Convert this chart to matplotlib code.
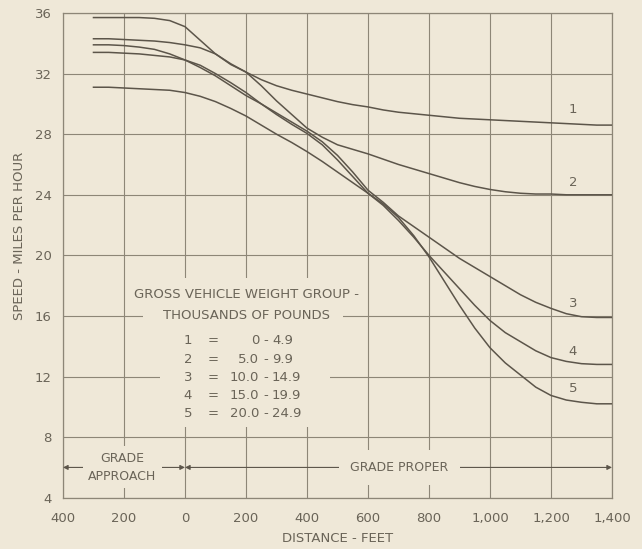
import matplotlib
matplotlib.use("Agg")
import matplotlib.pyplot as plt
from matplotlib.patches import Rectangle
from matplotlib.ticker import FuncFormatter

# ---------------- data ----------------
distance = list(range(-300, 1401, 50))   # feet (negative = grade approach)

speed_1 = [35.7, 35.7, 35.7, 35.7, 35.65, 35.5, 35.1, 34.2, 33.3, 32.6, 32.1,
           31.6, 31.2, 30.9, 30.65, 30.4, 30.15, 29.95, 29.8, 29.6, 29.45,
           29.35, 29.25, 29.15, 29.05, 29.0, 28.95, 28.9, 28.85, 28.8, 28.75,
           28.7, 28.65, 28.6, 28.6]
speed_2 = [34.3, 34.3, 34.25, 34.2, 34.15, 34.05, 33.9, 33.7, 33.3, 32.65, 32.1,
           31.2, 30.2, 29.3, 28.4, 27.8, 27.3, 27.0, 26.7, 26.35, 26.0,
           25.7, 25.4, 25.1, 24.8, 24.55, 24.35, 24.2, 24.1, 24.05, 24.05,
           24.0, 24.0, 24.0, 24.0]
speed_3 = [33.9, 33.9, 33.85, 33.75, 33.6, 33.3, 32.9, 32.4, 31.85, 31.2, 30.55,
           30.0, 29.4, 28.8, 28.2, 27.5, 26.6, 25.5, 24.3, 23.5, 22.6,
           21.9, 21.2, 20.5, 19.8, 19.2, 18.6, 18.0, 17.4, 16.9, 16.5,
           16.15, 15.95, 15.9, 15.9]
speed_4 = [33.4, 33.4, 33.35, 33.3, 33.2, 33.1, 32.9, 32.55, 32.0, 31.4, 30.75,
           30.0, 29.3, 28.65, 28.05, 27.3, 26.3, 25.2, 24.1, 23.3, 22.3,
           21.2, 20.0, 18.9, 17.8, 16.7, 15.7, 14.9, 14.3, 13.7, 13.25,
           13.0, 12.85, 12.8, 12.8]
speed_5 = [31.1, 31.1, 31.05, 31.0, 30.95, 30.9, 30.75, 30.5, 30.15, 29.7, 29.2,
           28.6, 28.0, 27.45, 26.85, 26.2, 25.5, 24.8, 24.1, 23.4, 22.5,
           21.3, 19.9, 18.3, 16.7, 15.2, 13.9, 12.9, 12.1, 11.3, 10.75,
           10.45, 10.3, 10.2, 10.2]

curve_names = ["1", "2", "3", "4", "5"]
label_speeds = [29.6, 24.8, 16.85, 13.65, 11.2]

legend_title = ["GROSS VEHICLE WEIGHT GROUP -", "THOUSANDS OF POUNDS"]
group_low = ["0", "5.0", "10.0", "15.0", "20.0"]
group_high = ["4.9", "9.9", "14.9", "19.9", "24.9"]

x_ticks = list(range(-400, 1401, 200))
y_ticks = list(range(4, 37, 4))

# ---------------- style ----------------
BG = "#efe8d8"
LINE = "#5c554a"
GRID = "#8d8677"
TXT = "#6a6458"
plt.rcParams["font.family"] = ["DejaVu Sans"]

fig = plt.figure(figsize=(6.42, 5.49), dpi=100, facecolor=BG)
ax = fig.add_axes([0.0981, 0.0934, 0.8552, 0.8829])
ax.set_facecolor(BG)
ax.set_xlim(-400, 1400)
ax.set_ylim(4, 36)

ax.set_xticks(x_ticks)
ax.set_yticks(y_ticks)
ax.xaxis.set_major_formatter(FuncFormatter(lambda v, p: f"{abs(int(v)):,}"))
ax.grid(True, color=GRID, lw=0.8)
ax.set_axisbelow(True)
for s in ax.spines.values():
    s.set_color(GRID)
    s.set_linewidth(0.9)
ax.tick_params(axis="both", length=0, colors=TXT, labelsize=9.5)
ax.tick_params(axis="x", pad=10)
ax.tick_params(axis="y", pad=8)

ax.set_xlabel("DISTANCE - FEET", color=TXT, fontsize=9.5, labelpad=5)
ax.set_ylabel("SPEED - MILES PER HOUR", color=TXT, fontsize=9.5, labelpad=14)
ax.yaxis.set_label_coords(-0.067, 0.54)

# ---------------- curves ----------------
for s in (speed_1, speed_2, speed_3, speed_4, speed_5):
    ax.plot(distance, s, color=LINE, lw=1.1, zorder=3)

for name, y in zip(curve_names, label_speeds):
    ax.text(1272, y, name, color=TXT, fontsize=9.5, ha="center", va="center", zorder=4)

# ---------------- legend block (background masks hide the grid behind text) ----------------
ax.add_patch(Rectangle((-82, 8.7), 557, 9.8, facecolor=BG, edgecolor="none", zorder=1.5))
ax.add_patch(Rectangle((-138, 15.6), 656, 0.8, facecolor=BG, edgecolor="none", zorder=1.5))
ax.add_patch(Rectangle((-160, 16.9), 700, 1.0, facecolor=BG, edgecolor="none", zorder=1.5))
ax.text(203, 17.4, legend_title[0], color=TXT, fontsize=9.5, ha="center", va="center", zorder=4)
ax.text(203, 16.05, legend_title[1], color=TXT, fontsize=9.5, ha="center", va="center", zorder=4)
row_y = [14.35, 13.15, 11.95, 10.75, 9.55]
for name, lo, hi, y in zip(curve_names, group_low, group_high, row_y):
    ax.text(10, y, name, color=TXT, fontsize=9.5, ha="center", va="center", zorder=4)
    ax.text(92, y, "=", color=TXT, fontsize=9.5, ha="center", va="center", zorder=4)
    ax.text(243, y, lo, color=TXT, fontsize=9.5, ha="right", va="center", zorder=4)
    ax.text(264, y, "-", color=TXT, fontsize=9.5, ha="center", va="center", zorder=4)
    ax.text(285, y, hi, color=TXT, fontsize=9.5, ha="left", va="center", zorder=4)

# ---------------- grade dimension lines ----------------
arrow = dict(arrowstyle="-|>", color=LINE, lw=0.8, mutation_scale=7, shrinkA=0, shrinkB=0)
ax.annotate("", xy=(-400, 6), xytext=(-320, 6), arrowprops=arrow, zorder=4)
ax.annotate("", xy=(0, 6), xytext=(-85, 6), arrowprops=arrow, zorder=4)
ax.text(-205, 6.0, "GRADE\nAPPROACH", color=TXT, fontsize=9, ha="center", va="center",
        linespacing=1.5, zorder=4, bbox=dict(facecolor=BG, edgecolor="none", pad=4))
ax.annotate("", xy=(0, 6), xytext=(530, 6), arrowprops=arrow, zorder=4)
ax.annotate("", xy=(1400, 6), xytext=(880, 6), arrowprops=arrow, zorder=4)
ax.text(703, 6.0, "GRADE PROPER", color=TXT, fontsize=9, ha="center", va="center",
        zorder=4, bbox=dict(facecolor=BG, edgecolor="none", pad=8))

fig.savefig("out.png", dpi=100, facecolor=BG)
